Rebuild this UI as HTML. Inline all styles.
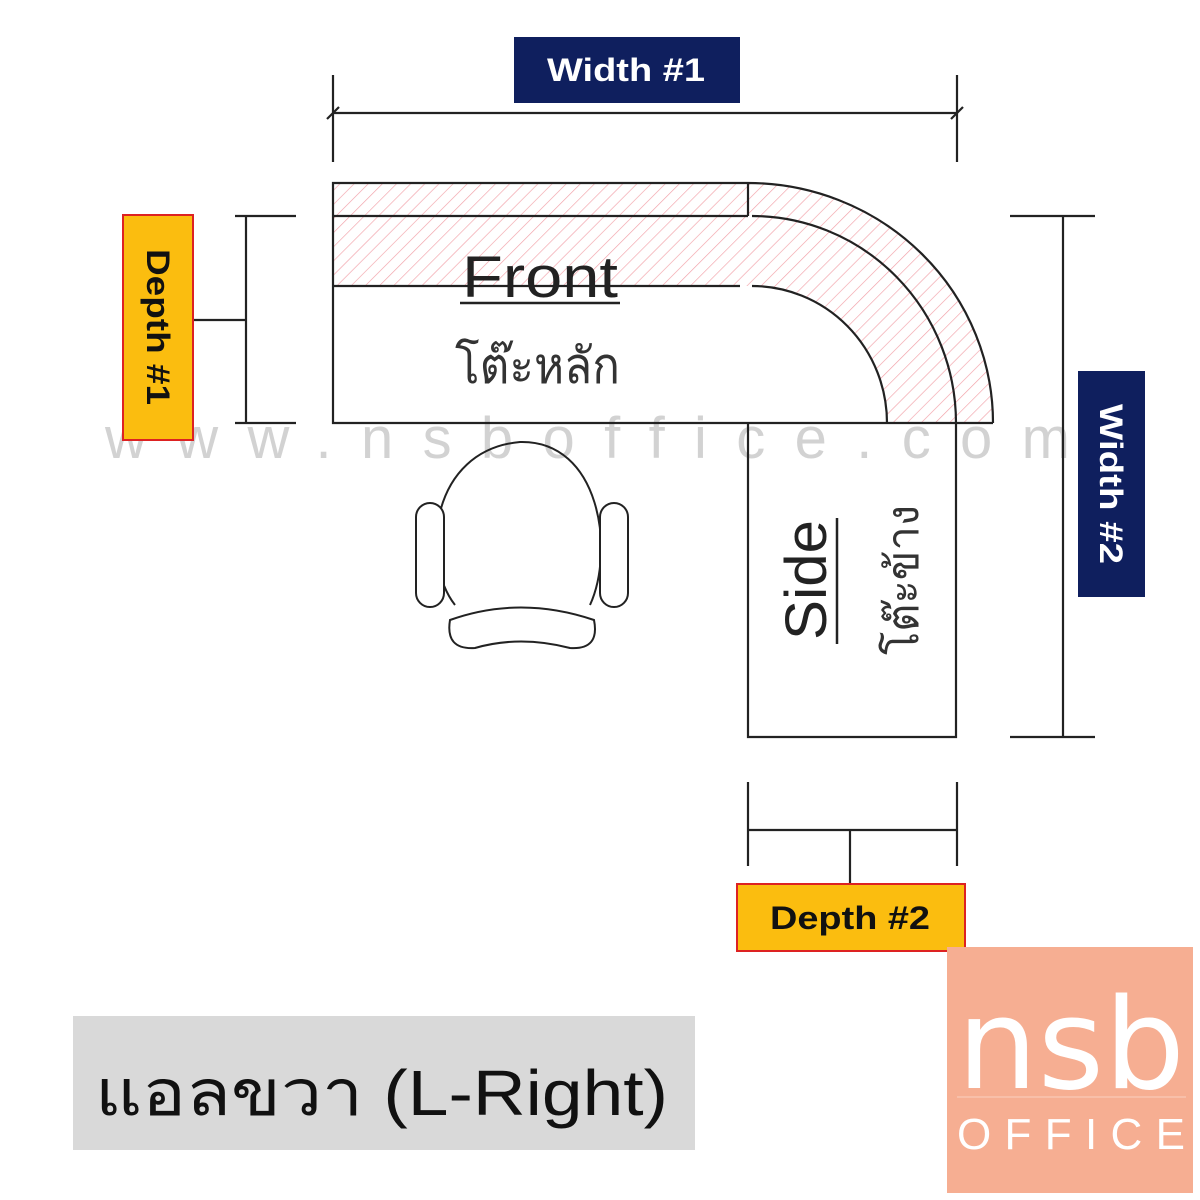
<!DOCTYPE html>
<html><head><meta charset="utf-8"><style>
html,body{margin:0;padding:0;background:#fff;}
svg{display:block}
</style></head><body>
<svg width="1200" height="1200" viewBox="0 0 1200 1200" xmlns="http://www.w3.org/2000/svg">
<defs>
<pattern id="h" patternUnits="userSpaceOnUse" width="10" height="10" patternTransform="rotate(45)">
<line x1="0" y1="0" x2="0" y2="10" stroke="#f2a0a8" stroke-width="1.3"/>
</pattern>
</defs>
<rect width="1200" height="1200" fill="#fff"/>
<rect x="333" y="183" width="415" height="103" fill="url(#h)"/>
<path d="M748 183 A245 240 0 0 1 993 423 L887 423 A139 137 0 0 0 748 286 Z" fill="url(#h)"/>
<text x="105" y="458" textLength="965" lengthAdjust="spacing" font-family="Liberation Sans, sans-serif" font-size="58" fill="#c8c8c8" opacity="0.8">www.nsboffice.com</text>
<g stroke="#222" stroke-width="2.2" fill="none">
<path d="M748 183 L333 183 L333 423 L993 423"/>
<line x1="333" y1="216" x2="748" y2="216"/>
<line x1="333" y1="286" x2="740" y2="286"/>
<line x1="748" y1="183" x2="748" y2="216"/>
<path d="M748 183 A245 240 0 0 1 993 423"/>
<path d="M752 216 A204 207 0 0 1 956 423"/>
<path d="M752 286 A135 137 0 0 1 887 423"/>
<path d="M748 423 L748 737 L956 737 L956 423"/>
<line x1="333" y1="113" x2="957" y2="113"/>
<line x1="333" y1="75" x2="333" y2="162"/>
<line x1="957" y1="75" x2="957" y2="162"/>
<line x1="327" y1="119" x2="339" y2="107"/><line x1="951" y1="119" x2="963" y2="107"/>
<line x1="246" y1="216" x2="246" y2="423"/>
<line x1="235" y1="216" x2="296" y2="216"/>
<line x1="235" y1="423" x2="296" y2="423"/>
<line x1="193" y1="320" x2="246" y2="320"/>
<line x1="1063" y1="216" x2="1063" y2="737"/>
<line x1="1010" y1="216" x2="1095" y2="216"/>
<line x1="1010" y1="737" x2="1095" y2="737"/>
<line x1="748" y1="830" x2="957" y2="830"/>
<line x1="748" y1="782" x2="748" y2="866"/>
<line x1="957" y1="782" x2="957" y2="866"/>
<line x1="850" y1="830" x2="850" y2="884"/>
<path d="M455 605 C420 560 430 450 520 442 C600 440 615 550 590 605" stroke-width="2"/>
<rect x="416" y="503" width="28" height="104" rx="14" fill="#fff" stroke-width="2"/>
<rect x="600" y="503" width="28" height="104" rx="14" fill="#fff" stroke-width="2"/>
<path d="M450 620 Q520 595 594 620 Q600 650 570 648 Q520 635 475 648 Q445 650 450 620 Z" stroke-width="2"/>
</g>
<text x="462" y="297" textLength="156" lengthAdjust="spacingAndGlyphs" font-family="Liberation Sans, sans-serif" font-size="58" fill="#222">Front</text>
<line x1="460" y1="303" x2="620" y2="303" stroke="#222" stroke-width="2.5"/>
<text x="455" y="383" textLength="165" lengthAdjust="spacingAndGlyphs" font-family="Liberation Sans, 'Noto Sans CJK SC', sans-serif" font-size="50" fill="#333">โต๊ะหลัก</text>
<g transform="translate(826,580) rotate(-90)">
<text x="-60" y="0" textLength="120" lengthAdjust="spacingAndGlyphs" font-family="Liberation Sans, sans-serif" font-size="58" fill="#222">Side</text>
</g>
<line x1="837" y1="518" x2="837" y2="644" stroke="#222" stroke-width="2.5"/>
<g transform="translate(918,580) rotate(-90)">
<text x="-75" y="0" textLength="150" lengthAdjust="spacingAndGlyphs" font-family="Liberation Sans, sans-serif" font-size="44" fill="#333">โต๊ะข้าง</text>
</g>
<rect x="514" y="37" width="226" height="66" fill="#0f1f5e"/>
<text x="547" y="81" textLength="158" lengthAdjust="spacingAndGlyphs" font-family="Liberation Sans, sans-serif" font-weight="bold" font-size="32" fill="#fff">Width #1</text>
<rect x="123" y="215" width="70" height="225" fill="#fbbd0f" stroke="#d22" stroke-width="2"/>
<g transform="translate(158,327) rotate(90)"><text x="-78" y="11" textLength="156" lengthAdjust="spacingAndGlyphs" font-family="Liberation Sans, sans-serif" font-weight="bold" font-size="32" fill="#111">Depth #1</text></g>
<rect x="1078" y="371" width="67" height="226" fill="#0f1f5e"/>
<g transform="translate(1111,484) rotate(90)"><text x="-80" y="11" textLength="160" lengthAdjust="spacingAndGlyphs" font-family="Liberation Sans, sans-serif" font-weight="bold" font-size="32" fill="#fff">Width #2</text></g>
<rect x="737" y="884" width="228" height="67" fill="#fbbd0f" stroke="#d22" stroke-width="2"/>
<text x="770" y="929" textLength="160" lengthAdjust="spacingAndGlyphs" font-family="Liberation Sans, sans-serif" font-weight="bold" font-size="32" fill="#111">Depth #2</text>
<rect x="73" y="1016" width="622" height="134" fill="#d9d9d9"/>
<text x="95" y="1115" textLength="573" lengthAdjust="spacingAndGlyphs" font-family="Liberation Sans, sans-serif" font-size="64" fill="#111">แอลขวา (L-Right)</text>
<rect x="947" y="947" width="246" height="246" fill="#f6ae92"/>
<text x="957" y="1088" textLength="228" lengthAdjust="spacingAndGlyphs" font-family="DejaVu Sans, sans-serif" font-size="126" fill="#fff">nsb</text>
<line x1="957" y1="1097" x2="1186" y2="1097" stroke="#fbd0c0" stroke-width="1"/>
<text x="957" y="1149" textLength="228" lengthAdjust="spacing" font-family="Liberation Sans, sans-serif" font-size="44" fill="#fff">OFFICE</text>
</svg>
</body></html>
